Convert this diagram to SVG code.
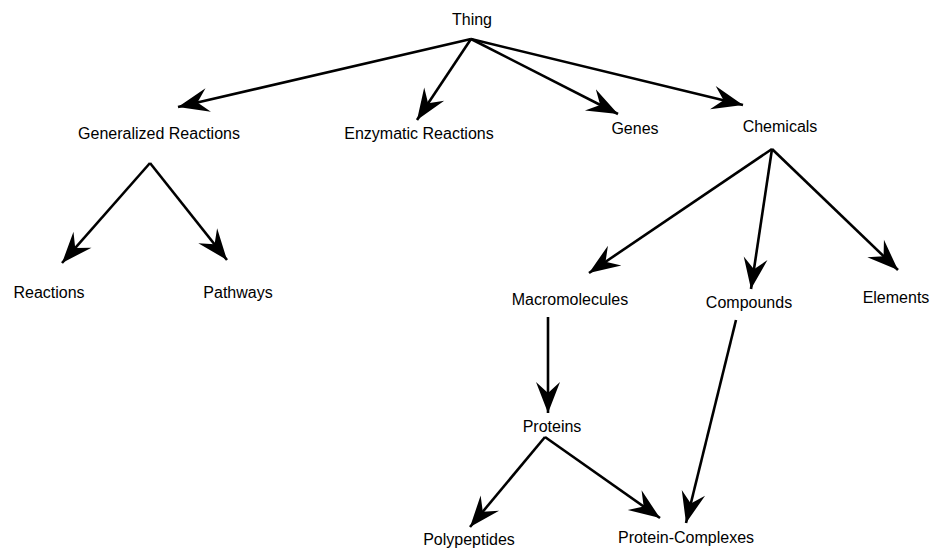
<svg xmlns="http://www.w3.org/2000/svg" width="935" height="548" viewBox="0 0 935 548">
<style>
text{font-family:"Liberation Sans",Arial,sans-serif;font-size:16px;fill:#000;text-anchor:middle}
.e line{stroke:#000;stroke-width:2.6;marker-end:url(#ah)}
</style>
<defs>
<marker id="ah" markerUnits="userSpaceOnUse" markerWidth="40" markerHeight="30" viewBox="-35 -15 40 30" refX="0" refY="0" orient="auto">
<path d="M0,0 L-31,-12 L-20,0 L-31,12 Z" fill="#000"/>
</marker>
</defs>
<rect width="935" height="548" fill="#fff"/>
<g class="e" id="connectors">
<line x1="471" y1="39" x2="178" y2="107"/>
<line x1="471" y1="39" x2="417" y2="120"/>
<line x1="471" y1="39" x2="618" y2="114"/>
<line x1="471" y1="39" x2="743" y2="105"/>
<line x1="150" y1="163" x2="62" y2="263"/>
<line x1="150" y1="163" x2="227" y2="260"/>
<line x1="772" y1="149" x2="589" y2="273"/>
<line x1="772" y1="149" x2="751" y2="289"/>
<line x1="772" y1="149" x2="898" y2="270"/>
<line x1="548" y1="317" x2="548" y2="413"/>
<line x1="545" y1="437" x2="470" y2="527"/>
<line x1="545" y1="437" x2="660" y2="518"/>
<line x1="736" y1="320" x2="686" y2="523"/>
</g>
<g id="thing"><text x="472" y="25">Thing</text></g>
<g id="generalized-reactions"><text x="159" y="139">Generalized Reactions</text></g>
<g id="enzymatic-reactions"><text x="419" y="139">Enzymatic Reactions</text></g>
<g id="genes"><text x="635" y="134">Genes</text></g>
<g id="chemicals"><text x="780" y="132">Chemicals</text></g>
<g id="reactions"><text x="49" y="298">Reactions</text></g>
<g id="pathways"><text x="238" y="298">Pathways</text></g>
<g id="macromolecules"><text x="570" y="305">Macromolecules</text></g>
<g id="compounds"><text x="749" y="308">Compounds</text></g>
<g id="elements"><text x="896" y="303">Elements</text></g>
<g id="proteins"><text x="552" y="432">Proteins</text></g>
<g id="polypeptides"><text x="469" y="545">Polypeptides</text></g>
<g id="protein-complexes"><text x="686" y="543">Protein-Complexes</text></g>
</svg>
